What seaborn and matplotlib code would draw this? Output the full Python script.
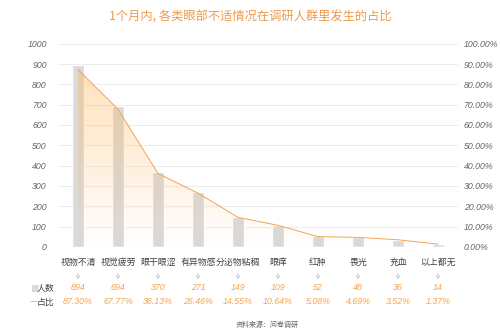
import numpy as np
import matplotlib
matplotlib.use("Agg")
import matplotlib.pyplot as plt
import matplotlib.transforms as mtransforms
from matplotlib.colors import LinearSegmentedColormap
import seaborn as sns

categories = ["视物不清", "视觉疲劳", "眼干眼涩", "有异物感", "分泌物粘稠",
              "眼痒", "红肿", "畏光", "充血", "以上都无"]
counts = [894, 694, 370, 271, 149, 109, 52, 48, 36, 14]
shares = [87.30, 67.77, 36.13, 26.46, 14.55, 10.64, 5.08, 4.69, 3.52, 1.37]
left_ticks = [0, 100, 200, 300, 400, 500, 600, 700, 800, 900, 1000]
right_ticks = [0, 10, 20, 30, 40, 50, 60, 70, 80, 90, 100]
title = "1个月内, 各类眼部不适情况在调研人群里发生的占比"
source = "资料来源：问卷调研"

sns.set_theme(style="white")
plt.rcParams['font.family'] = ['Noto Sans CJK SC', 'DejaVu Sans']

ORANGE = "#f2a552"
GRAY_BAR = "#dadada"
TICK_C = "#666666"
NUMFONT = ['Liberation Sans', 'DejaVu Sans']

fig = plt.figure(figsize=(5.0, 3.31), dpi=100)
ax = fig.add_axes([0.116, 0.254, 0.800, 0.614])

sns.barplot(x=categories, y=counts, color=GRAY_BAR, saturation=1, width=0.3,
            ax=ax, zorder=2)
ax.set_xlim(-0.5, len(categories) - 0.5)
ax.set_ylim(0, 1000)
ax.set_yticks(left_ticks)
ax.set_yticklabels([str(t) for t in left_ticks], fontsize=6.3, color=TICK_C,
                   fontstyle='italic', family=NUMFONT)
ax.yaxis.grid(True, color="#ececec", linewidth=0.7, zorder=0)
ax.set_axisbelow(True)
ax.set_xticks([])
ax.set_xlabel("")
ax.set_ylabel("")
for s in ax.spines.values():
    s.set_visible(False)
ax.tick_params(axis='y', length=0, pad=8)

ax2 = ax.twinx()
ax2.set_ylim(0, 100)
ax2.set_xlim(-0.5, len(categories) - 0.5)
xpos = np.arange(len(categories))
sns.lineplot(x=xpos, y=shares, color=ORANGE, linewidth=0.7, ax=ax2, zorder=4)
poly = ax2.fill_between(xpos, shares, 0, facecolor='none', edgecolor='none')
cmap = LinearSegmentedColormap.from_list("g", [(1, 0.66, 0.28, 0.0), (1, 0.72, 0.35, 0.40)])
grad = np.linspace(0, 1, 256).reshape(-1, 1)
im = ax2.imshow(grad, aspect='auto', cmap=cmap, origin='lower',
                extent=[xpos[0], xpos[-1], 0, max(shares)], zorder=3)
im.set_clip_path(poly.get_paths()[0], transform=ax2.transData)
ax2.set_xlim(-0.5, len(categories) - 0.5)
ax2.set_ylim(0, 100)
ax2.set_yticks(right_ticks)
ax2.set_yticklabels([f"{t:.2f}%" for t in right_ticks], fontsize=6.3, color=TICK_C,
                    fontstyle='italic', family=NUMFONT)
ax2.tick_params(axis='y', length=0, pad=4)
ax2.set_ylabel("")
for s in ax2.spines.values():
    s.set_visible(False)
ax2.set_xticks([])

trans = mtransforms.blended_transform_factory(ax.transData, ax.transAxes)
for i, c in enumerate(categories):
    ax.text(i, -0.075, c, transform=trans, ha='center', va='center',
            fontsize=6.4, color="#444444")
    ax.annotate("", xy=(i, -0.175), xytext=(i, -0.115), xycoords=trans, textcoords=trans,
                arrowprops=dict(arrowstyle='->', color='#cccccc', lw=0.7,
                                mutation_scale=6))
    ax.text(i, -0.2, f"{counts[i]}", transform=trans, ha='center', va='center',
            fontsize=6.4, color=ORANGE, fontstyle='italic', family=NUMFONT)
    ax.text(i, -0.27, f"{shares[i]:.2f}%", transform=trans, ha='center', va='center',
            fontsize=6.4, color=ORANGE, fontstyle='italic', family=NUMFONT)

# row legends
fig.text(30 / 500, 1 - 288 / 331, "■", fontsize=6.5, color=GRAY_BAR, ha='left', va='center',
         family=['DejaVu Sans'])
fig.text(37 / 500, 1 - 288 / 331, "人数", fontsize=6.4, color="#444444", ha='left', va='center')
fig.text(30 / 500, 1 - 302 / 331, "—", fontsize=5.5, color=ORANGE, ha='left', va='center',
         family=['DejaVu Sans'])
fig.text(37 / 500, 1 - 302 / 331, "占比", fontsize=6.4, color="#444444", ha='left', va='center')

fig.text(0.5, 1 - 17 / 331, title, fontsize=8.8, color="#ee9a4d", ha='center', va='center')
fig.text(236 / 500, 1 - 325 / 331, source, fontsize=5, color="#666666", ha='left', va='center')

fig.savefig("out.png", dpi=100)
